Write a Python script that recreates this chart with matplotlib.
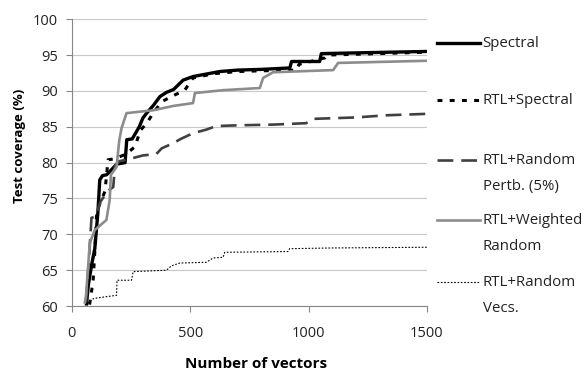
import matplotlib
matplotlib.use("Agg")
import matplotlib.pyplot as plt

plt.rcParams["font.family"] = ["Open Sans", "DejaVu Sans"]

# --- data ---
spectral_x = [62, 70, 85, 97, 110, 118, 130, 147, 190, 225, 232, 255, 285, 300, 316,
              345, 372, 400, 430, 470, 512, 560, 625, 700, 800, 921, 928, 1047, 1054,
              1200, 1500]
spectral_y = [60.3, 63, 66, 68, 73, 77.6, 78.2, 78.3, 79.8, 80.0, 83.2, 83.3, 85, 86.2,
              86.9, 88, 89.2, 89.8, 90.2, 91.5, 92.0, 92.3, 92.7, 92.9, 93.0, 93.2, 94.1,
              94.1, 95.2, 95.3, 95.5]

rtl_spec_x = [75, 90, 97, 104, 115, 140, 153, 175, 200, 230, 266, 290, 316, 350, 380,
              420, 477, 512, 600, 700, 800, 949, 960, 1069, 1080, 1300, 1500]
rtl_spec_y = [60.2, 63.6, 67.5, 72.5, 74, 76, 80.4, 80.5, 80.8, 81.2, 82.2, 84.5, 85.5,
              87.2, 88.5, 89.2, 90.1, 91.8, 92.4, 92.7, 92.8, 92.9, 93.7, 94.6, 95.0,
              95.2, 95.4]

pertb_x = [60, 75, 83, 100, 120, 150, 175, 182, 200, 231, 300, 357, 380, 428, 460, 512,
           568, 610, 700, 850, 990, 1019, 1200, 1328, 1500]
pertb_y = [60.5, 68, 72.3, 72.5, 74.5, 76, 76.6, 79.5, 80.2, 80.4, 81, 81.2, 82, 82.7,
           83.3, 84.1, 84.6, 85.1, 85.2, 85.3, 85.5, 86.1, 86.3, 86.6, 86.8]

weighted_x = [55, 60, 76, 97, 146, 160, 165, 189, 200, 210, 231, 344, 428, 512, 520, 639,
              794, 808, 850, 1104, 1125, 1500]
weighted_y = [60.5, 61.5, 68.8, 70.6, 72.0, 74.8, 78.3, 79.4, 83, 84.8, 86.9, 87.3, 87.9,
              88.3, 89.7, 90.1, 90.4, 91.8, 92.6, 92.9, 93.9, 94.2]

vecs_x = [65, 90, 100, 189, 191, 252, 259, 400, 420, 456, 568, 597, 639, 646, 913, 920,
          1100, 1500]
vecs_y = [60.4, 61.0, 61.1, 61.5, 63.6, 63.6, 64.8, 65.0, 65.6, 66.0, 66.1, 66.7, 66.8,
          67.5, 67.6, 68.0, 68.1, 68.2]

series = [
    (spectral_x, spectral_y, "Spectral",
     dict(color="black", lw=2.4, ls="-")),
    (rtl_spec_x, rtl_spec_y, "RTL+Spectral",
     dict(color="black", lw=2.2, ls=(0, (1.6, 2.4)))),
    (pertb_x, pertb_y, "RTL+Random\nPertb. (5%)",
     dict(color="#404040", lw=1.9, ls=(0, (6, 3)))),
    (weighted_x, weighted_y, "RTL+Weighted\nRandom",
     dict(color="#8c8c8c", lw=1.9, ls="-")),
    (vecs_x, vecs_y, "RTL+Random\nVecs.",
     dict(color="black", lw=0.8, ls=(0, (1.5, 1.5)))),
]

fig = plt.figure(figsize=(5.84, 3.76), dpi=100)
ax = fig.add_axes([0.123, 0.186, 0.608, 0.763])

for xs, ys, label, style in series:
    ax.plot(xs, ys, **style)

ax.set_xlim(0, 1500)
ax.set_ylim(60, 100)
ax.set_xticks([0, 500, 1000, 1500])
ax.set_yticks(range(60, 101, 5))
ax.yaxis.grid(True, color="#c8c8c8", lw=0.8)
ax.set_axisbelow(True)

for side in ["top", "right"]:
    ax.spines[side].set_visible(False)
for side in ["left", "bottom"]:
    ax.spines[side].set_color("#868686")
ax.tick_params(axis="both", colors="#868686", labelcolor="#222222", labelsize=10.5,
               length=4, width=0.8)
ax.tick_params(axis="x", pad=10)
ax.tick_params(axis="y", pad=6)

ax.set_xlabel("Number of vectors", fontsize=11, fontweight="bold")
ax.xaxis.set_label_coords(0.52, -0.178)
ax.set_ylabel("Test coverage (%)", fontsize=9.5, fontweight="bold")
ax.yaxis.set_label_coords(-0.13, 0.56)

# legend on the right, drawn by hand so the keys line up with the first text line
key_y = [0.916, 0.718, 0.509, 0.300, 0.085]
px = 1 / (0.763 * 376)
for (xs, ys, label, style), ky in zip(series, key_y):
    ax.plot([1.028, 1.149], [ky, ky], transform=ax.transAxes, clip_on=False, **style)
    for i, part in enumerate(label.split("\n")):
        ax.text(1.157, ky - 4 * px - i * 26 * px, part, transform=ax.transAxes,
                fontsize=10.8, va="baseline", ha="left", color="#222222")

fig.savefig("out.png", dpi=100)
